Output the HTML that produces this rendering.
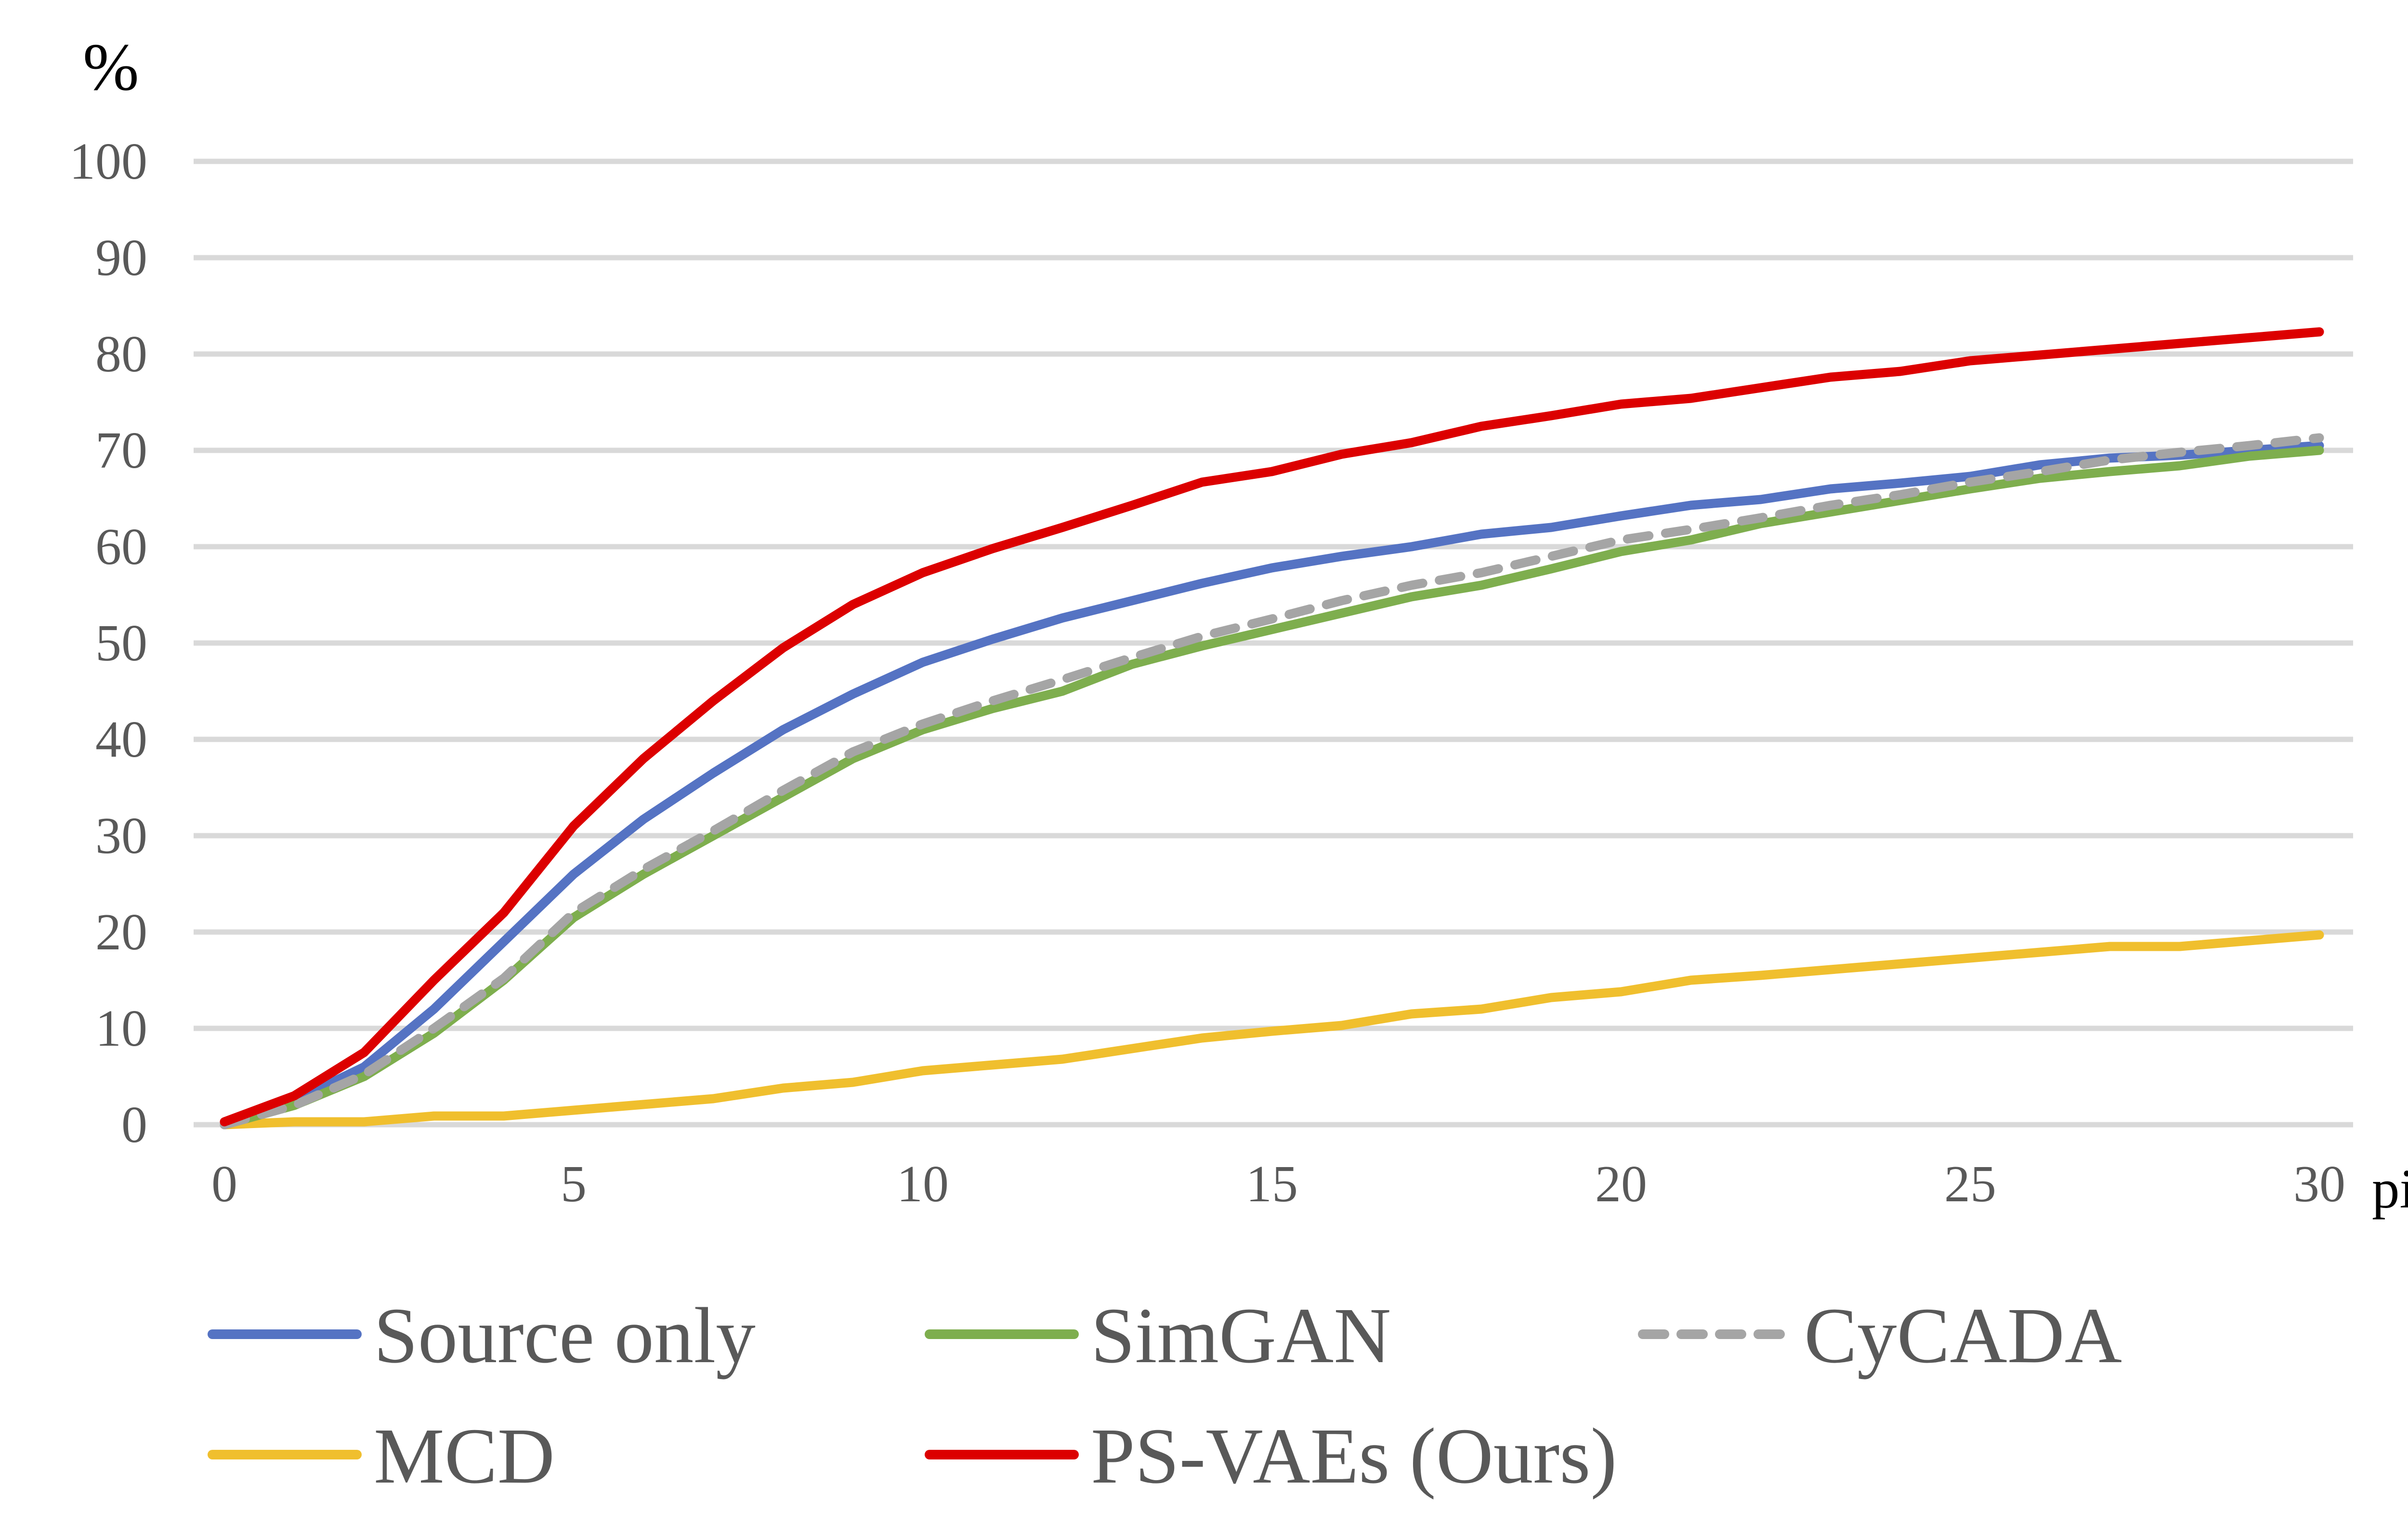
<!DOCTYPE html>
<html><head><meta charset="utf-8"><style>
html,body{margin:0;padding:0;background:#fff;}
svg{display:block;}
</style></head><body>
<svg id="chart" width="5183" height="3191" viewBox="0 0 5183 3191" xmlns="http://www.w3.org/2000/svg" font-family="Liberation Serif, serif">
<rect width="5183" height="3191" fill="#fff"/>
<g id="grid"></g>
<g id="yticks" fill="#595959" font-size="108" text-anchor="end"></g>
<g id="xticks" fill="#595959" font-size="108" text-anchor="middle"></g>
<text x="172" y="186" font-size="140" fill="#000">%</text>
<text x="4925" y="2507" font-size="115" fill="#000">pix.</text>
<g id="series"></g>
<g id="legend" font-size="165" fill="#595959"></g>
</svg>
<script>
const xs = [0,1,2,3,4,5,6,7,8,9,10,11,12,13,14,15,16,17,18,19,20,21,22,23,24,25,26,27,28,29,30];
const yTicks = [0,10,20,30,40,50,60,70,80,90,100];
const xTicks = [0,5,10,15,20,25,30];
const sourceOnly = [0,2.5,6,12,19,26,31.7,36.5,41,44.7,48,50.4,52.6,54.4,56.2,57.8,59,60,61.3,62,63.2,64.3,64.9,66,66.6,67.3,68.5,69.2,69.5,70,70.5];
const simGAN = [0,2,5,9.5,15,21.5,26,30,34,38,41,43.2,45,47.8,49.7,51.4,53.1,54.8,56,57.7,59.5,60.7,62.4,63.6,64.8,66,67.1,67.8,68.4,69.4,70];
const cyCADA = [0,2,5.2,10,15.2,22,26.5,30.5,34.7,38.7,41.6,44,46.2,48.5,50.7,52.5,54.4,56,57.3,59,60.7,61.8,63,64.3,65.4,66.7,67.8,69,69.8,70.5,71.3];
const mcd = [0,0.3,0.3,0.9,0.9,1.5,2.1,2.7,3.8,4.4,5.6,6.2,6.8,7.9,9,9.7,10.3,11.5,12,13.2,13.8,15,15.5,16.1,16.7,17.3,17.9,18.5,18.5,19.1,19.7];
const psVAEs = [0.3,3,7.5,15,22,31,38,44,49.5,54,57.3,59.8,62,64.3,66.7,67.8,69.6,70.8,72.5,73.6,74.8,75.4,76.5,77.6,78.2,79.3,79.9,80.5,81.1,81.7,82.3];

const NS="http://www.w3.org/2000/svg";
function X(v){return 466+v*145;}
function Y(v){return 2335-v*20.0;}
function mk(tag,attrs,parent){const e=document.createElementNS(NS,tag);for(const k in attrs)e.setAttribute(k,attrs[k]);parent.appendChild(e);return e;}

const grid=document.getElementById('grid');
const yt=document.getElementById('yticks');
yTicks.forEach(t=>{
  const l=mk('line',{x1:402,x2:4886,y1:Y(t),y2:Y(t),stroke:'#d9d9d9','stroke-width':11},grid);
  
  
  const tx=mk('text',{x:306,y:Y(t)+36},yt);
  tx.textContent=t;
  
  
});
const xt=document.getElementById('xticks');
xTicks.forEach(t=>{
  const tx=mk('text',{x:X(t),y:2494},xt);
  tx.textContent=t;
  
  
});

const series=[
 {name:'MCD',data:mcd,color:'#F0BF2E',dash:null,key:'mcd'},
 {name:'Source only',data:sourceOnly,color:'#5573C3',dash:null,key:'source-only'},
 {name:'SimGAN',data:simGAN,color:'#7EAE4E',dash:null,key:'simgan'},
 {name:'CyCADA',data:cyCADA,color:'#A5A5A5',dash:'45 35',key:'cycada'},
 {name:'PS-VAEs (Ours)',data:psVAEs,color:'#DC0000',dash:null,key:'ps-vaes'}
];
const sg=document.getElementById('series');
series.forEach(s=>{
  const pts=s.data.map((v,i)=>X(xs[i])+','+Y(v)).join(' ');
  const a={points:pts,fill:'none',stroke:s.color,'stroke-width':19,'stroke-linejoin':'round','stroke-linecap':'round'};
  if(s.dash)a['stroke-dasharray']=s.dash;
  const p=mk('polyline',a,sg);
  
  
});

const legendPos={
 'source-only':[441,2770],'simgan':[1930,2770],'cycada':[3411,2770],
 'mcd':[441,3020],'ps-vaes':[1930,3020]
};
const lg=document.getElementById('legend');
['source-only','simgan','cycada','mcd','ps-vaes'].forEach(k=>{
  const s=series.find(q=>q.key===k);
  const [lx,ly]=legendPos[k];
  const g=mk('g',{},lg);
  
  
  const a={x1:lx,x2:lx+300,y1:ly,y2:ly,stroke:s.color,'stroke-width':20,'stroke-linecap':'round'};
  if(s.dash)a['stroke-dasharray']='45 35';
  mk('line',a,g);
  const t=mk('text',{x:lx+335,y:ly+58},g);
  t.textContent=s.name;
});
</script>
</body></html>
